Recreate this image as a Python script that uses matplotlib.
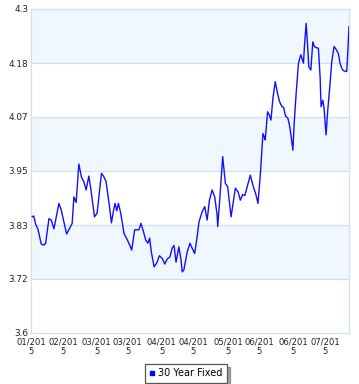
import matplotlib
matplotlib.use("Agg")
import matplotlib.pyplot as plt
from matplotlib.lines import Line2D

# readings of the 30 year fixed rate series (x = position along the time axis)
x_pos = [0.3, 1.7, 3.7, 6, 9.3, 12, 13.7, 17, 19.3, 22,
         27, 29.3, 34.7, 38.7, 40.3, 42, 44.3, 47, 49.7, 52,
         54.3, 57, 58.7, 62.7, 65.3, 69.7, 72, 74.3, 77.3, 79.7,
         81.3, 83.3, 85, 86.7, 89, 92.3, 95.7, 98, 100, 103,
         105, 107.3, 109.3, 111.7, 114, 116.3, 118, 119.7, 122.5, 125.3,
         127.8, 130.7, 133.2, 135.7, 138.3, 140.7, 142.5, 144.5, 147.3, 149.5,
         150.7, 152.3, 155.7, 158.5, 160.7, 163.2, 165.7, 167.5, 170.7, 173.3,
         175.7, 178, 180.7, 183.3, 185.7, 186.3, 188.3, 191.3, 194, 196.3,
         199.7, 204, 206.7, 209, 211.3, 213.5, 216.7, 219, 222, 224.5,
         226.7, 229, 231.7, 233, 234, 236.3, 238, 239.7, 241.7, 244,
         246.3, 248.3, 250.7, 252.3, 254.3, 256.7, 258.3, 260, 261.7, 263,
         265, 267.3, 269.7, 271.3, 272.3, 273.3, 275, 276.3, 277.7, 279.7,
         281.7, 283.3, 284.7, 287.3, 289, 290, 291.7, 293, 295, 296.7,
         299, 300.7, 303, 305, 307.3, 309, 310.7, 312.3, 314.7, 315.7,
         316.7, 318]
rate = [3.851, 3.853, 3.835, 3.824, 3.792, 3.790, 3.794, 3.847, 3.844, 3.825,
        3.880, 3.866, 3.814, 3.830, 3.837, 3.894, 3.882, 3.965, 3.936, 3.927,
        3.909, 3.939, 3.916, 3.851, 3.859, 3.945, 3.938, 3.927, 3.880, 3.838,
        3.859, 3.880, 3.864, 3.880, 3.859, 3.815, 3.801, 3.790, 3.779, 3.823,
        3.823, 3.823, 3.837, 3.820, 3.801, 3.794, 3.805, 3.775, 3.743, 3.752,
        3.767, 3.761, 3.749, 3.760, 3.764, 3.784, 3.789, 3.753, 3.786, 3.758,
        3.732, 3.736, 3.775, 3.794, 3.783, 3.772, 3.808, 3.840, 3.862, 3.873,
        3.844, 3.887, 3.909, 3.894, 3.855, 3.830, 3.887, 3.981, 3.923, 3.916,
        3.851, 3.913, 3.905, 3.887, 3.899, 3.897, 3.923, 3.941, 3.916, 3.900,
        3.880, 3.941, 4.031, 4.024, 4.017, 4.078, 4.071, 4.060, 4.107, 4.143,
        4.118, 4.100, 4.089, 4.088, 4.069, 4.064, 4.049, 4.024, 3.995, 4.053,
        4.118, 4.183, 4.201, 4.190, 4.183, 4.219, 4.269, 4.226, 4.175, 4.168,
        4.229, 4.219, 4.217, 4.215, 4.154, 4.089, 4.103, 4.085, 4.028, 4.082,
        4.139, 4.186, 4.219, 4.213, 4.204, 4.183, 4.172, 4.167, 4.165, 4.165,
        4.204, 4.262]

y_ticks = [3.6, 3.7167, 3.8333, 3.95, 4.0667, 4.1833, 4.3]
y_labels = ["3.6", "3.72", "3.83", "3.95", "4.07", "4.18", "4.3"]
x_ticks = [-1, 31, 65, 96, 130, 162, 197, 228, 262, 294]
x_labels = ["01/201\n5", "02/201\n5", "03/201\n5", "03/201\n5", "04/201\n5",
            "04/201\n5", "05/201\n5", "06/201\n5", "06/201\n5", "07/201\n5"]

W, H = 359, 384
fig = plt.figure(figsize=(W / 100, H / 100), dpi=100)
ax = fig.add_axes([31 / W, 1 - 333 / H, 318 / W, 324 / H])

grid_col = "#cfe0f3"
band_col = "#f0f7fe"

# alternating bands
for i in range(len(y_ticks) - 1):
    if i % 2 == 1:
        ax.axhspan(y_ticks[i], y_ticks[i + 1], color=band_col, lw=0, zorder=0)
for yt in y_ticks[1:-1]:
    ax.axhline(yt, color=grid_col, lw=0.9, zorder=1)

ax.plot(x_pos, rate, color="#1010ff", lw=1.0, zorder=3)

ax.set_xlim(0, 318)
ax.set_ylim(3.6, 4.3)
ax.set_yticks(y_ticks)
ax.set_yticklabels(y_labels)
ax.set_xticks(x_ticks)
ax.set_xticklabels(x_labels, linespacing=1.05)
ax.tick_params(length=0, labelsize=6.1, colors="#222222", pad=3)
ax.tick_params(axis="y", pad=2, labelsize=6.4)
for s in ax.spines.values():
    s.set_color(grid_col)
    s.set_linewidth(0.9)

handle = Line2D([], [], color="#0000ff", marker="s", markersize=3, lw=0)
leg = fig.legend([handle], ["30 Year Fixed"], loc="upper left",
                 bbox_to_anchor=(145 / W, 1 - 364 / H), fontsize=7,
                 frameon=True, fancybox=False, shadow=True,
                 handlelength=0.6, handletextpad=0.3, borderpad=0.45,
                 borderaxespad=0)
leg.get_frame().set_edgecolor("#555555")
leg.get_frame().set_linewidth(0.9)

fig.savefig("out.png", dpi=100)
